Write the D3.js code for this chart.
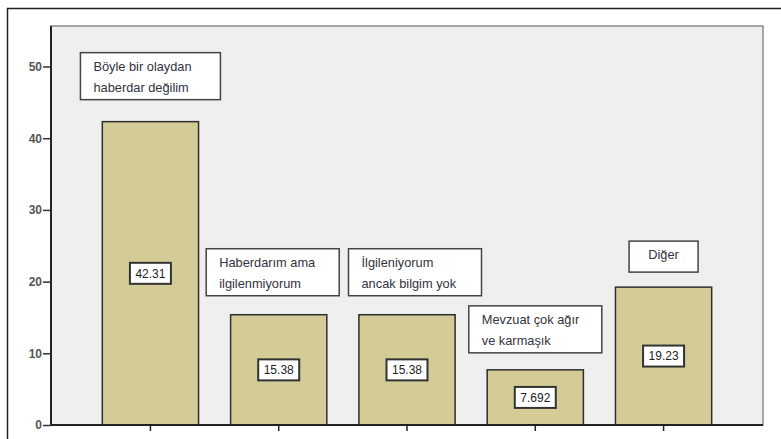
<!DOCTYPE html>
<html>
<head>
<meta charset="utf-8">
<script src="https://cdn.jsdelivr.net/npm/d3@7"></script>
<style>
  body { margin: 0; background: #fff; }
  svg { display: block; }
</style>
</head>
<body>
<svg id="chart" width="781" height="439"></svg>
<script>
var categories = [
  ['Böyle bir olaydan', 'haberdar değilim'],
  ['Haberdarım ama', 'ilgilenmiyorum'],
  ['İlgileniyorum', 'ancak bilgim yok'],
  ['Mevzuat çok ağır', 've karmaşık'],
  ['Diğer']
];
var values = [42.31, 15.38, 15.38, 7.692, 19.23];
var valueLabels = ['42.31', '15.38', '15.38', '7.692', '19.23'];
var yTicks = [0, 10, 20, 30, 40, 50];

// callout nudges (layout only)
var calloutDx = [0, -6, 8, 0, 0];
var calloutGap = [22, 19, 19, 17, 15];
var calloutW = [140, 133, 133, 133, 69];

var svg = d3.select('#chart');
var LEFT = 51, RIGHT = 763, TOP = 26, BOTTOM = 425;
var FONT = 'Liberation Sans, Arial, sans-serif';

// outer frame (cropped on right and bottom)
svg.append('rect')
  .attr('x', 7.5).attr('y', 8.5)
  .attr('width', 800).attr('height', 460)
  .attr('fill', '#fff')
  .attr('stroke', '#222').attr('stroke-width', 1.5);

var x = d3.scaleBand()
  .domain(d3.range(values.length))
  .range([LEFT, RIGHT])
  .paddingInner(0.25)
  .paddingOuter(0.4);

var y = d3.scaleLinear()
  .domain([0, 55.65])
  .range([BOTTOM, TOP]);

// plot background
svg.append('rect')
  .attr('x', LEFT).attr('y', TOP)
  .attr('width', RIGHT - LEFT).attr('height', BOTTOM - TOP)
  .attr('fill', '#efefef')
  .attr('stroke', '#8a8a8a').attr('stroke-width', 1.5);

var bars = svg.append('g').attr('class', 'bars');
bars.selectAll('rect')
  .data(values)
  .enter()
  .append('rect')
  .attr('x', function(d, i) { return x(i); })
  .attr('y', function(d) { return y(d); })
  .attr('width', x.bandwidth())
  .attr('height', function(d) { return y(0) - y(d); })
  .attr('fill', '#d3cc96')
  .attr('stroke', '#2e2e2e')
  .attr('stroke-width', 1.5);

// value labels, centered in each bar
var vl = svg.append('g').attr('class', 'value-labels');
vl.selectAll('g')
  .data(values)
  .enter()
  .append('g')
  .attr('transform', function(d, i) {
    var cx = x(i) + x.bandwidth() / 2;
    var cy = (y(d) + y(0)) / 2;
    return 'translate(' + cx + ',' + cy + ')';
  })
  .each(function(d, i) {
    var g = d3.select(this);
    g.append('rect')
      .attr('x', -20.5).attr('y', -10.5)
      .attr('width', 41).attr('height', 21)
      .attr('fill', '#fff')
      .attr('stroke', '#333').attr('stroke-width', 2);
    g.append('text')
      .attr('text-anchor', 'middle')
      .attr('dy', '0.36em')
      .attr('font-family', FONT)
      .attr('font-size', 12)
      .attr('fill', '#222')
      .text(valueLabels[i]);
  });

// category callouts above bars
var co = svg.append('g').attr('class', 'callouts');
co.selectAll('g')
  .data(categories)
  .enter()
  .append('g')
  .each(function(lines, i) {
    var g = d3.select(this);
    var w = calloutW[i];
    var h = lines.length === 1 ? 31 : 47;
    var cx = x(i) + x.bandwidth() / 2 + calloutDx[i];
    var bottom = y(values[i]) - calloutGap[i];
    var left = cx - w / 2;
    g.append('rect')
      .attr('x', left).attr('y', bottom - h)
      .attr('width', w).attr('height', h)
      .attr('fill', '#fff')
      .attr('stroke', '#444').attr('stroke-width', 1.5);
    g.selectAll('text')
      .data(lines)
      .enter()
      .append('text')
      .attr('x', lines.length === 1 ? cx : left + 13)
      .attr('text-anchor', lines.length === 1 ? 'middle' : 'start')
      .attr('y', function(t, k) { return bottom - h + 18 + k * 21; })
      .attr('font-family', FONT)
      .attr('font-size', 12.8)
      .attr('fill', '#33333d')
      .text(function(t) { return t; });
  });

// y axis
var yAxis = d3.axisLeft(y).tickValues(yTicks).tickSize(8).tickPadding(1);
var ya = svg.append('g')
  .attr('transform', 'translate(' + LEFT + ',0)')
  .call(yAxis);
ya.select('.domain').attr('stroke', '#222').attr('stroke-width', 2)
  .attr('d', 'M0,' + TOP + 'V' + BOTTOM);
ya.selectAll('.tick line').attr('stroke', '#333').attr('stroke-width', 1.5);
ya.selectAll('.tick text')
  .attr('font-family', FONT)
  .attr('font-size', 12)
  .attr('font-weight', 'bold')
  .attr('fill', '#555');

// x axis
var xAxis = d3.axisBottom(x).tickSize(6).tickFormat('');
var xa = svg.append('g')
  .attr('transform', 'translate(0,' + BOTTOM + ')')
  .call(xAxis);
xa.select('.domain').attr('stroke', '#222').attr('stroke-width', 2)
  .attr('d', 'M' + LEFT + ',0H' + RIGHT);
xa.selectAll('.tick line').attr('stroke', '#222').attr('stroke-width', 1.5);
</script>
</body>
</html>
